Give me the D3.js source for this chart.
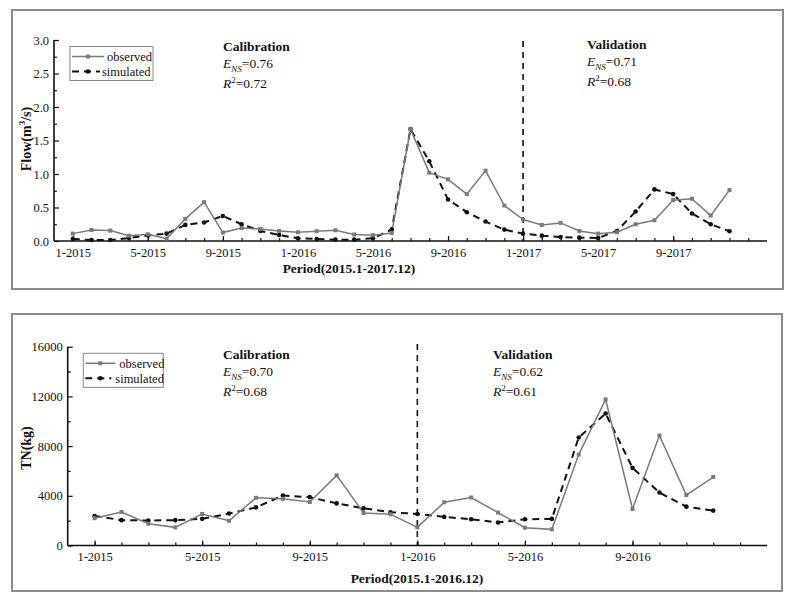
<!DOCTYPE html>
<html><head><meta charset="utf-8">
<script src="https://cdn.jsdelivr.net/npm/d3@7"></script>
<style>
body{margin:0;background:#fff;}
svg{display:block;font-family:"Liberation Serif","Times New Roman",serif;}
</style></head>
<body><svg id="c" width="791" height="601"></svg>
<script>
// ---------- data ----------
const flowTickLabels = ["1-2015","5-2015","9-2015","1-2016","5-2016","9-2016","1-2017","5-2017","9-2017"];
const flowObserved = [0.11,0.165,0.155,0.078,0.10,0.034,0.33,0.58,0.126,0.194,0.18,0.15,
                      0.13,0.146,0.16,0.097,0.087,0.12,1.67,1.02,0.92,0.70,1.05,0.53,
                      0.32,0.24,0.27,0.15,0.11,0.13,0.25,0.31,0.61,0.63,0.38,0.76];
const flowSimulated = [0.03,0.015,0.015,0.044,0.083,0.11,0.24,0.277,0.374,0.25,0.15,0.09,
                       0.04,0.03,0.02,0.02,0.04,0.17,1.67,1.19,0.62,0.43,0.29,0.17,
                       0.11,0.08,0.06,0.05,0.045,0.15,0.44,0.77,0.70,0.41,0.25,0.145];
const flowYTicks = [0,0.5,1.0,1.5,2.0,2.5,3.0];

const tnTickLabels = ["1-2015","5-2015","9-2015","1-2016","5-2016","9-2016"];
const tnObserved = [2200,2700,1750,1460,2540,1990,3840,3760,3500,5640,2620,2520,
                    1460,3480,3865,2650,1430,1300,7320,11750,2940,8850,4060,5510];
const tnSimulated = [2380,2040,2010,2040,2145,2570,3070,4026,3890,3390,2990,2675,
                     2540,2300,2115,1853,2115,2140,8690,10620,6250,4264,3125,2807];
const tnYTicks = [0,4000,8000,12000,16000];

const svg = d3.select("#c");
svg.append("rect").attr("width",791).attr("height",601).attr("fill","#fff");

function panel(o){
  const g = svg.append("g");
  // frame
  g.append("rect").attr("x",o.frame[0]).attr("y",o.frame[1]).attr("width",o.frame[2]).attr("height",o.frame[3])
   .attr("fill","none").attr("stroke","#8c8c8c").attr("stroke-width",2);
  const n = o.obs.length;
  const x = d3.scaleLinear().domain([-1,o.xMax]).range([o.left,o.right]);
  const y = d3.scaleLinear().domain([0,o.yMax]).range([o.bottom,o.top]);
  const months = d3.range(0,o.nTicks);
  const majors = d3.range(0,o.labels.length).map(i=>i*4);
  // minor x ticks
  g.append("g").attr("transform",`translate(0,${o.bottom})`)
   .call(d3.axisBottom(x).tickValues(months).tickSize(-3).tickFormat(""))
   .call(a=>a.select(".domain").remove());
  // major x
  const ax = g.append("g").attr("transform",`translate(0,${o.bottom})`)
   .call(d3.axisBottom(x).tickValues(majors).tickSize(-5).tickPadding(7).tickFormat((d,i)=>o.labels[i]));
  ax.select(".domain").attr("d",`M${o.left},0H${o.right}`);
  // minor y
  const yMinor = d3.range(0,o.yTicks.length-1).map(i=>(o.yTicks[i]+o.yTicks[i+1])/2);
  g.append("g").attr("transform",`translate(${o.left},0)`)
   .call(d3.axisLeft(y).tickValues(yMinor).tickSize(-3).tickFormat(""))
   .call(a=>a.select(".domain").remove());
  const ay = g.append("g").attr("transform",`translate(${o.left},0)`)
   .call(d3.axisLeft(y).tickValues(o.yTicks).tickSize(-5).tickPadding(5).tickFormat(o.yFmt));
  ay.select(".domain").attr("d",`M0,${o.top}V${o.bottom}`);
  g.selectAll(".domain").attr("stroke","#111").attr("stroke-width",1.6);
  g.selectAll(".tick line").attr("stroke","#111").attr("stroke-width",1.2);
  g.selectAll(".tick text").attr("font-family","Liberation Serif, Times New Roman, serif")
    .attr("font-size",12.5).attr("fill","#111");

  // divider
  g.append("line").attr("x1",x(o.split)).attr("x2",x(o.split)).attr("y1",o.splitTop).attr("y2",o.bottom)
   .attr("stroke","#111").attr("stroke-width",1.6).attr("stroke-dasharray","6,5");

  // series
  const line = d3.line().x((d,i)=>x(i)).y(d=>y(d));
  g.append("path").datum(o.sim).attr("d",line).attr("fill","none").attr("stroke","#111")
   .attr("stroke-width",2).attr("stroke-dasharray","7,5");
  g.append("path").datum(o.obs).attr("d",line).attr("fill","none").attr("stroke","#7a7a7a")
   .attr("stroke-width",1.5);
  g.selectAll(".sm").data(o.sim).join("circle").attr("cx",(d,i)=>x(i)).attr("cy",d=>y(d))
   .attr("r",2.3).attr("fill","#111");
  g.selectAll(".om").data(o.obs).join("rect").attr("x",(d,i)=>x(i)-2).attr("y",d=>y(d)-2)
   .attr("width",4).attr("height",4).attr("fill","#7a7a7a");

  // legend
  const L = o.legend;
  g.append("rect").attr("x",L.x).attr("y",L.y).attr("width",L.w).attr("height",L.h)
   .attr("fill","#fff").attr("stroke","#888").attr("stroke-width",1);
  const r1 = L.y+10, r2 = L.y+25;
  g.append("line").attr("x1",L.x+2).attr("x2",L.x+L.l1).attr("y1",r1).attr("y2",r1)
   .attr("stroke","#7a7a7a").attr("stroke-width",1.5);
  g.append("rect").attr("x",L.x+L.l1/2-1).attr("y",r1-2).attr("width",4).attr("height",4).attr("fill","#7a7a7a");
  g.append("text").attr("x",L.x+L.t1).attr("y",r1+4.5).attr("font-size",12.5).attr("fill","#111").text("observed");
  g.append("line").attr("x1",L.x+2).attr("x2",L.x+L.l2).attr("y1",r2).attr("y2",r2)
   .attr("stroke","#111").attr("stroke-width",2).attr("stroke-dasharray","7,5");
  g.append("circle").attr("cx",L.x+L.l1/2+1).attr("cy",r2).attr("r",2.3).attr("fill","#111");
  g.append("text").attr("x",L.x+L.t2).attr("y",r2+4.5).attr("font-size",12.5).attr("fill","#111").text("simulated");

  // annotations
  function stats(xx,yy,title,ens,r2v){
    const t = g.append("g").attr("fill","#111");
    t.append("text").attr("x",xx).attr("y",yy).attr("font-size",13.5).attr("font-weight","bold").text(title);
    const e = t.append("text").attr("x",xx).attr("y",yy+17).attr("font-size",13.5);
    e.append("tspan").attr("font-style","italic").text("E");
    e.append("tspan").attr("font-style","italic").attr("font-size",9).attr("dy",3.5).text("NS");
    e.append("tspan").attr("dy",-3.5).text("="+ens);
    const r = t.append("text").attr("x",xx).attr("y",yy+37).attr("font-size",13.5);
    r.append("tspan").attr("font-style","italic").text("R");
    r.append("tspan").attr("font-size",9).attr("dy",-5).text("2");
    r.append("tspan").attr("dy",5).text("="+r2v);
  }
  stats(o.cal[0],o.cal[1],"Calibration",o.cal[2],o.cal[3]);
  stats(o.val[0],o.val[1],"Validation",o.val[2],o.val[3]);

  // axis titles
  g.append("text").attr("x",o.xTitle[0]).attr("y",o.xTitle[1]).attr("text-anchor","middle")
   .attr("font-size",13.5).attr("font-weight","bold").attr("fill","#111").text(o.xTitle[2]);
  const yt = g.append("text").attr("transform",`translate(${o.yTitle[0]},${o.yTitle[1]}) rotate(-90)`)
   .attr("text-anchor","middle").attr("font-size",14).attr("font-weight","bold").attr("fill","#111");
  o.yTitle[2](yt);
}

panel({
  frame:[12,10,771,279], left:54, right:767, top:40, bottom:241, xMax:37, nTicks:37,
  yMax:3, yTicks:flowYTicks, yFmt:d3.format(".1f"), labels:flowTickLabels,
  obs:flowObserved, sim:flowSimulated, split:24, splitTop:41,
  legend:{x:70,y:46.5,w:83,h:34,l1:34,l2:30,t1:37,t2:32},
  cal:[223,51,"0.76","0.72"], val:[587,49,"0.71","0.68"],
  xTitle:[349,273,"Period(2015.1-2017.12)"],
  yTitle:[31,139,t=>{t.append("tspan").text("Flow(m");t.append("tspan").attr("font-size",9).attr("dy",-6).text("3");t.append("tspan").attr("dy",6).text("/s)");}]
});
panel({
  frame:[12,314,770,277], left:67.7, right:767, top:346.7, bottom:545.5, xMax:25, nTicks:25,
  yMax:16000, yTicks:tnYTicks, yFmt:d3.format("d"), labels:tnTickLabels,
  obs:tnObserved, sim:tnSimulated, split:12, splitTop:344,
  legend:{x:83.3,y:353.3,w:80,h:34,l1:32,l2:28,t1:36,t2:32},
  cal:[223,359,"0.70","0.68"], val:[493,359,"0.62","0.61"],
  xTitle:[417,583,"Period(2015.1-2016.12)"],
  yTitle:[31,448,t=>{t.text("TN(kg)");}]
});
</script></body></html>
